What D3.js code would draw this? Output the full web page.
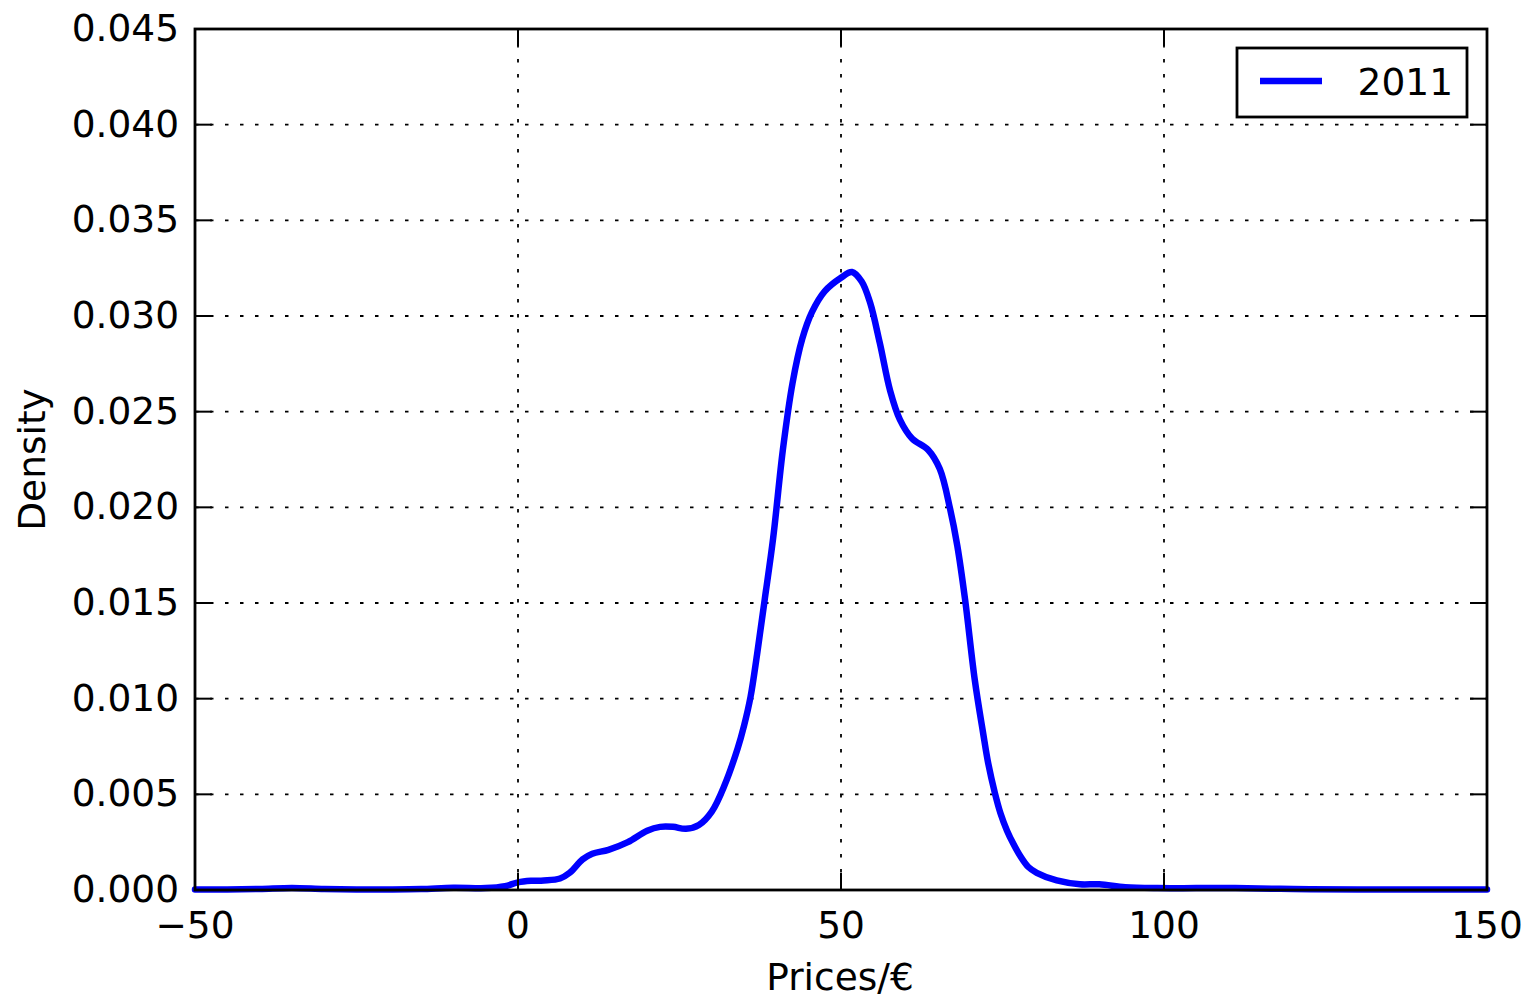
<!DOCTYPE html>
<html>
<head>
<meta charset="utf-8">
<script src="https://cdn.jsdelivr.net/npm/d3@7"></script>
<style>
  html, body { margin: 0; padding: 0; background: #fff; }
  svg { display: block; }
  text { font-family: "DejaVu Sans", sans-serif; fill: #000; }
</style>
</head>
<body>
<svg id="chart" width="1530" height="1000"></svg>
<script>
// ---- data ----
const priceX = [-50, -45, -40, -35, -30, -25, -20, -15, -10, -5, -2, 0, 2, 4, 6.5, 8, 10, 11.5, 14, 17, 20, 22, 24, 26, 28, 30, 32, 34, 35, 36, 37, 38.2, 39.5, 41, 42.5, 44, 45.5, 47.5, 50, 51.7, 53.2, 54.5, 56, 57.6, 59.1, 61, 63.5, 65.3, 66.9, 68, 69.2, 70.7, 72, 72.8, 73.8, 74.7, 75.7, 76.7, 77.7, 79, 80.3, 83.4, 87, 90, 94, 99, 105, 111, 120, 130, 150];
const density2011 = [0.00003, 0.00003, 0.00005, 0.0001, 0.00005, 0.00003, 0.00003, 0.00005, 0.00012, 0.0001, 0.0002, 0.0004, 0.00048, 0.0005, 0.0006, 0.0009, 0.0016, 0.0019, 0.0021, 0.0025, 0.0031, 0.0033, 0.0033, 0.0032, 0.0034, 0.0041, 0.0055, 0.0074, 0.0086, 0.0101, 0.0123, 0.0152, 0.0184, 0.0230, 0.0265, 0.0288, 0.0302, 0.0313, 0.0320, 0.0323, 0.0318, 0.0307, 0.0286, 0.0261, 0.0246, 0.0236, 0.0230, 0.0220, 0.0199, 0.0180, 0.0152, 0.0110, 0.0082, 0.0066, 0.0051, 0.0040, 0.0031, 0.0024, 0.0018, 0.0012, 0.0009, 0.0005, 0.0003, 0.0003, 0.00015, 0.0001, 0.0001, 0.0001, 0.00005, 0.00003, 0.00002];
const seriesName = "2011";
const xTicks = [-50, 0, 50, 100, 150];
const yTicks = [0, 0.005, 0.010, 0.015, 0.020, 0.025, 0.030, 0.035, 0.040, 0.045];
const xLabel = "Prices/€";
const yLabel = "Density";

// ---- layout ----
const L = 195, R = 1487, T = 29, B = 890;
const FS = 37.5;
const svg = d3.select("#chart");

const x = d3.scaleLinear().domain([-50, 150]).range([L, R]);
const y = d3.scaleLinear().domain([0, 0.045]).range([B, T]);

// grid
const grid = svg.append("g");
xTicks.forEach(t => {
  if (t === -50 || t === 150) return;
  grid.append("line").attr("x1", x(t)).attr("x2", x(t)).attr("y1", T).attr("y2", B)
    .attr("stroke", "#000").attr("stroke-width", 1.8).attr("stroke-dasharray", "3.5,11.5");
});
yTicks.forEach(t => {
  if (t === 0 || t === 0.045) return;
  grid.append("line").attr("x1", L).attr("x2", R).attr("y1", y(t)).attr("y2", y(t))
    .attr("stroke", "#000").attr("stroke-width", 1.8).attr("stroke-dasharray", "3.5,11.5");
});

// curve
const pts = priceX.map((v, i) => [v, density2011[i]]);
const line = d3.line().x(d => x(d[0])).y(d => y(d[1])).curve(d3.curveCatmullRom.alpha(0.5));
svg.append("path").datum(pts).attr("d", line)
  .attr("fill", "none").attr("stroke", "#0000ff").attr("stroke-width", 6.5)
  .attr("stroke-linejoin", "round").attr("stroke-linecap", "round");

// ticks (inward, on all sides)
const TL = 17;
const tk = svg.append("g").attr("stroke", "#000").attr("stroke-width", 2);
xTicks.forEach(t => {
  tk.append("line").attr("x1", x(t)).attr("x2", x(t)).attr("y1", B).attr("y2", B - TL);
  tk.append("line").attr("x1", x(t)).attr("x2", x(t)).attr("y1", T).attr("y2", T + TL);
});
yTicks.forEach(t => {
  tk.append("line").attr("x1", L).attr("x2", L + TL).attr("y1", y(t)).attr("y2", y(t));
  tk.append("line").attr("x1", R).attr("x2", R - TL).attr("y1", y(t)).attr("y2", y(t));
});

// frame
svg.append("rect").attr("x", L).attr("y", T).attr("width", R - L).attr("height", B - T)
  .attr("fill", "none").attr("stroke", "#000").attr("stroke-width", 2.8);

// tick labels
const fmtY = d3.format(".3f");
yTicks.forEach(t => {
  svg.append("text").attr("x", L - 16).attr("y", y(t) + 12)
    .attr("text-anchor", "end").attr("font-size", FS).text(fmtY(t));
});
xTicks.forEach(t => {
  svg.append("text").attr("x", x(t)).attr("y", 938)
    .attr("text-anchor", "middle").attr("font-size", FS).text(t < 0 ? "\u2212" + Math.abs(t) : String(t));
});

// axis labels
svg.append("text").attr("x", (L + R) / 2 - 1).attr("y", 990)
  .attr("text-anchor", "middle").attr("font-size", FS).text(xLabel);
svg.append("text").attr("transform", `translate(45, ${(T + B) / 2}) rotate(-90)`)
  .attr("text-anchor", "middle").attr("font-size", FS).text(yLabel);

// legend
const lg = svg.append("g");
lg.append("rect").attr("x", 1237).attr("y", 48).attr("width", 230).attr("height", 69)
  .attr("fill", "#fff").attr("stroke", "#000").attr("stroke-width", 2.8);
lg.append("line").attr("x1", 1260).attr("x2", 1322).attr("y1", 81).attr("y2", 81)
  .attr("stroke", "#0000ff").attr("stroke-width", 6.5);
lg.append("text").attr("x", 1453).attr("y", 95).attr("text-anchor", "end")
  .attr("font-size", FS).text(seriesName);
</script>
</body>
</html>
